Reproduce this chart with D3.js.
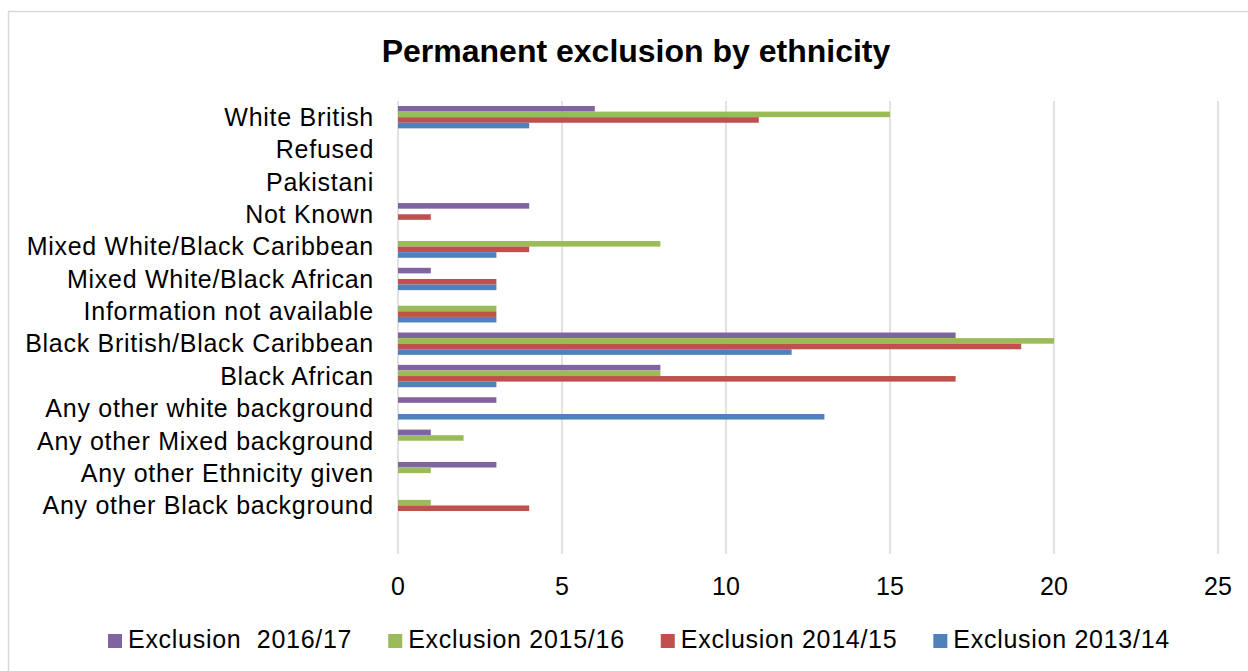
<!DOCTYPE html>
<html>
<head>
<meta charset="utf-8">
<script src="https://cdn.jsdelivr.net/npm/d3@7"></script>
<style>
  html, body { margin: 0; padding: 0; background: #fff; }
  svg { display: block; font-family: "Liberation Sans", Arial, sans-serif; }
</style>
</head>
<body>
<svg id="chart" width="1248" height="671"></svg>
<script>
// Ethnic groups, listed top to bottom
const categories = [
  "White British",
  "Refused",
  "Pakistani",
  "Not Known",
  "Mixed White/Black Caribbean",
  "Mixed White/Black African",
  "Information not available",
  "Black British/Black Caribbean",
  "Black African",
  "Any other white background",
  "Any other Mixed background",
  "Any other Ethnicity given",
  "Any other Black background"
];

// Series names, in legend order (also top-to-bottom order inside each group)
const seriesNames = ["Exclusion  2016/17", "Exclusion 2015/16", "Exclusion 2014/15", "Exclusion 2013/14"];
const seriesColors = ["#8064A2", "#9BBB59", "#C0504D", "#4F81BD"];

// Permanent exclusions per group (0 = no bar)
const excl1617 = [6, 0, 0, 4, 0, 1, 0, 17, 8, 3, 1, 3, 0];
const excl1516 = [15, 0, 0, 0, 8, 0, 3, 20, 8, 0, 2, 1, 1];
const excl1415 = [11, 0, 0, 1, 4, 3, 3, 19, 17, 0, 0, 0, 4];
const excl1314 = [4, 0, 0, 0, 3, 3, 3, 12, 3, 13, 0, 0, 0];

const xTicks = [0, 5, 10, 15, 20, 25];
const titleText = "Permanent exclusion by ethnicity";

const seriesValues = [excl1617, excl1516, excl1415, excl1314];

const svg = d3.select("#chart");
const W = 1248, H = 671;
const labelFont = 25;
const labelSpacing = "0.72px";

// chart frame
svg.append("rect")
  .attr("x", 8.5).attr("y", 11.5)
  .attr("width", W + 10).attr("height", H + 10)
  .attr("fill", "#fff")
  .attr("stroke", "#d9d9d9")
  .attr("stroke-width", 1.5);

const plot = { left: 398, right: 1218, top: 101, bottom: 554 };

const x = d3.scaleLinear().domain([0, 25]).range([plot.left, plot.right]);

// the category axis carries one empty slot below the last group
const slots = categories.concat([""]);
const y0 = d3.scaleBand()
  .domain(slots)
  .range([plot.top, plot.bottom])
  .paddingInner(0.31)
  .paddingOuter(0.155);

const y1 = d3.scaleBand()
  .domain(d3.range(seriesNames.length))
  .range([0, y0.bandwidth()]);

// vertical gridlines
svg.append("g")
  .selectAll("line")
  .data(xTicks)
  .join("line")
  .attr("x1", d => x(d)).attr("x2", d => x(d))
  .attr("y1", plot.top).attr("y2", plot.bottom)
  .attr("stroke", "#d9d9d9")
  .attr("stroke-width", 1.5);

// bars
const rows = [];
categories.forEach((c, i) => {
  seriesValues.forEach((vals, s) => {
    if (vals[i] > 0) rows.push({ cat: c, s: s, v: vals[i] });
  });
});

svg.append("g")
  .selectAll("rect")
  .data(rows)
  .join("rect")
  .attr("x", x(0))
  .attr("y", d => y0(d.cat) + y1(d.s))
  .attr("width", d => x(d.v) - x(0))
  .attr("height", y1.bandwidth())
  .attr("fill", d => seriesColors[d.s]);

// category labels
svg.append("g")
  .selectAll("text")
  .data(categories)
  .join("text")
  .attr("x", 374)
  .attr("y", d => y0(d) + y0.bandwidth() / 2)
  .attr("dy", "0.35em")
  .attr("text-anchor", "end")
  .attr("font-size", labelFont)
  .style("letter-spacing", labelSpacing)
  .attr("fill", "#000")
  .text(d => d);

// value axis labels
svg.append("g")
  .selectAll("text")
  .data(xTicks)
  .join("text")
  .attr("x", d => x(d))
  .attr("y", 595)
  .attr("text-anchor", "middle")
  .attr("font-size", labelFont)
  .attr("fill", "#000")
  .text(d => d);

// title
svg.append("text")
  .attr("x", 636)
  .attr("y", 62)
  .attr("text-anchor", "middle")
  .attr("font-size", 32)
  .attr("font-weight", "bold")
  .attr("fill", "#000")
  .text(titleText);

// legend
const legend = svg.append("g");
let lx = 108;
seriesNames.forEach((name, i) => {
  legend.append("rect")
    .attr("x", lx).attr("y", 634)
    .attr("width", 14).attr("height", 14)
    .attr("fill", seriesColors[i]);
  const t = legend.append("text")
    .attr("x", lx + 20)
    .attr("y", 648)
    .attr("font-size", labelFont)
    .style("letter-spacing", labelSpacing)
    .style("white-space", "pre")
    .attr("xml:space", "preserve")
    .attr("fill", "#000")
    .text(name);
  lx += 20 + t.node().getComputedTextLength() + 36;
});
</script>
</body>
</html>
